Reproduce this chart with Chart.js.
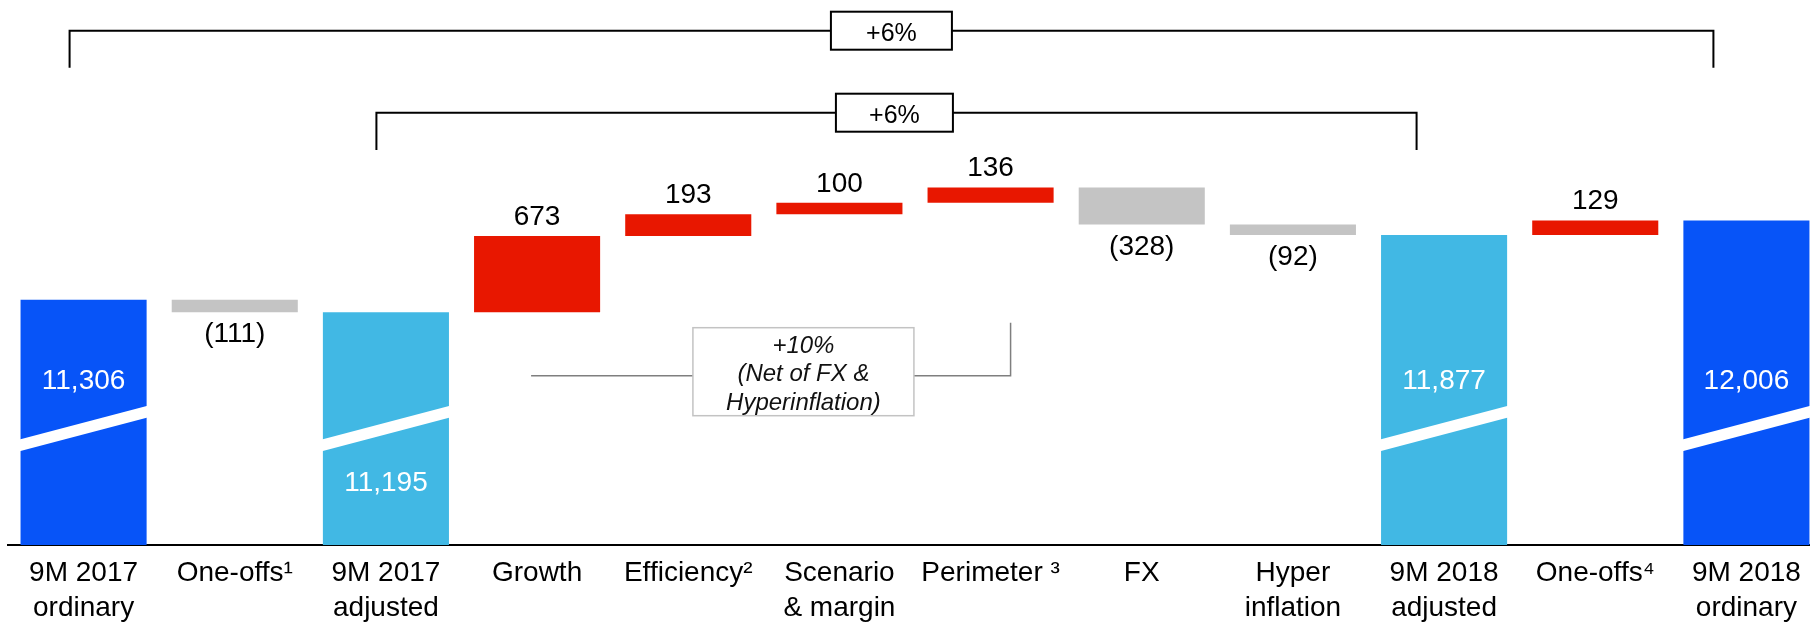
<!DOCTYPE html>
<html><head><meta charset="utf-8">
<script src="https://cdn.jsdelivr.net/npm/chart.js@4"></script>
<style>html,body{margin:0;padding:0;background:#fff;overflow:hidden;width:1810px;height:623px}canvas{display:block}</style>
</head><body>
<canvas id="c" width="1822" height="623"></canvas>
<script>
// ---- data ----
const categories = [['9M 2017','ordinary'],'One-offs¹',['9M 2017','adjusted'],'Growth','Efficiency²',['Scenario','& margin'],'Perimeter ³','FX',['Hyper','inflation'],['9M 2018','adjusted'],'One-offs⁴',['9M 2018','ordinary']];
const values = [11306,-111,11195,673,193,100,136,-328,-92,11877,129,12006];
const isTotal = [true,false,true,false,false,false,false,false,false,true,false,true];
const totalKind = ['ordinary',null,'adjusted',null,null,null,null,null,null,'adjusted',null,'ordinary'];
const axisFloor = 9141, axisCeil = 13951; // broken value axis
const bracketTop = {from:0, to:11, label:'+6%'};
const bracketMid = {from:2, to:9, label:'+6%'};
const netBracket = {from:3, to:6, lines:['+10%','(Net of FX &','Hyperinflation)']};
const labelBelowBreak = [false,false,true,false,false,false,false,false,false,false,false,false];

// ---- styles ----
const FONT = "'Liberation Sans', Arial, sans-serif";
const COL = {ordinary:'#0754F8', adjusted:'#41B8E4', up:'#E81700', down:'#C4C4C4'};

let level = 0;
const ranges = values.map((v,i)=>{
  if (isTotal[i]) { level = v; return [axisFloor, v]; }
  const s = level; level += v; return [s, level];
});
const colors = values.map((v,i)=> isTotal[i] ? COL[totalKind[i]] : (v >= 0 ? COL.up : COL.down));
const fmt = (v,i)=> isTotal[i] ? v.toLocaleString('en-US') : (v < 0 ? '(' + Math.abs(v) + ')' : String(v));

const annot = {
  id:'annot',
  afterDatasetsDraw(chart){
    const ctx = chart.ctx, xs = chart.scales.x, ca = chart.chartArea;
    const meta = chart.getDatasetMeta(0);
    const c = i => xs.getPixelForValue(i);
    ctx.save();
    // breaks + labels
    meta.data.forEach((bar,i)=>{
      const w = bar.width, L = bar.x - w/2 - 1, R = bar.x + w/2 + 1;
      if (isTotal[i]) {
        const mid = ca.bottom - 116.5, slope = 0.264, half = 5.85;
        const yl = mid + slope*(bar.x - L), yr = mid - slope*(R - bar.x);
        ctx.fillStyle = '#fff';
        ctx.beginPath();
        ctx.moveTo(L, yl - half); ctx.lineTo(R, yr - half);
        ctx.lineTo(R, yr + half); ctx.lineTo(L, yl + half);
        ctx.closePath(); ctx.fill();
        ctx.fillStyle = '#fff';
        ctx.font = '28px ' + FONT; ctx.textAlign = 'center'; ctx.textBaseline = 'alphabetic';
        const by = labelBelowBreak[i] ? mid + 62 : mid - 40;
        ctx.fillText(fmt(values[i],i), bar.x, by);
      } else {
        ctx.fillStyle = '#000';
        ctx.font = '28px ' + FONT; ctx.textAlign = 'center'; ctx.textBaseline = 'alphabetic';
        const top = Math.min(bar.y, bar.base), bot = Math.max(bar.y, bar.base);
        if (values[i] >= 0) ctx.fillText(fmt(values[i],i), bar.x, top - 11);
        else ctx.fillText(fmt(values[i],i), bar.x, bot + 30);
      }
    });
    // black brackets
    function bracket(b, dl, dr, y, legY, boxCx, boxW, boxTop, boxH, base){
      ctx.strokeStyle = '#000'; ctx.lineWidth = 2;
      ctx.beginPath();
      ctx.moveTo(c(b.from)+dl, legY); ctx.lineTo(c(b.from)+dl, y);
      ctx.lineTo(c(b.to)+dr, y); ctx.lineTo(c(b.to)+dr, legY);
      ctx.stroke();
      ctx.fillStyle = '#fff';
      ctx.fillRect(boxCx - boxW/2, boxTop, boxW, boxH);
      ctx.strokeRect(boxCx - boxW/2, boxTop, boxW, boxH);
      ctx.fillStyle = '#000'; ctx.font = '25px ' + FONT; ctx.textAlign='center'; ctx.textBaseline='alphabetic';
      ctx.fillText(b.label, boxCx, base);
    }
    bracket(bracketTop, -14, -33, 30.7, 67.7, c(5)+52, 121, 11.7, 38, 40.7);
    bracket(bracketMid, -9.5, -27.5, 112.7, 150, c(5)+55, 117, 93.7, 38, 122.7);
    // gray net bracket
    ctx.strokeStyle = '#7f7f7f'; ctx.lineWidth = 1.5;
    ctx.beginPath();
    ctx.moveTo(c(netBracket.from)-6, 375.7); ctx.lineTo(c(netBracket.to)+20, 375.7); ctx.lineTo(c(netBracket.to)+20, 322.7);
    ctx.stroke();
    const bx = c(5) - 36, bw = 221;
    ctx.fillStyle = '#fff'; ctx.fillRect(bx - bw/2, 327.7, bw, 88);
    ctx.strokeStyle = '#c3c3c3'; ctx.lineWidth = 1.5; ctx.strokeRect(bx - bw/2, 327.7, bw, 88);
    ctx.fillStyle = '#111'; ctx.font = 'italic 24px ' + FONT; ctx.textAlign='center';
    netBracket.lines.forEach((t,k)=> ctx.fillText(t, bx, 352.7 + k*28.6));
    ctx.restore();
  }
};

new Chart(document.getElementById('c'), {
  type:'bar',
  data:{ labels: categories, datasets:[{ data: ranges, backgroundColor: colors, borderWidth:0, categoryPercentage:1, barPercentage:0.834 }]},
  options:{
    responsive:false, devicePixelRatio:1, animation:false,
    layout:{ padding:{ left:8, right:0, top:0, bottom:0 } },
    plugins:{ legend:{display:false}, tooltip:{enabled:false} },
    scales:{
      x:{ grid:{display:false, drawTicks:false}, border:{display:true, color:'#000', width:2},
          ticks:{ color:'#000', font:{family:FONT, size:28, lineHeight:1.25}, padding:11, autoSkip:false, maxRotation:0, minRotation:0 },
          afterFit(s){ s.height = 78; } },
      y:{ display:false, min:axisFloor, max:axisCeil }
    }
  },
  plugins:[annot]
});
</script>
</body></html>
